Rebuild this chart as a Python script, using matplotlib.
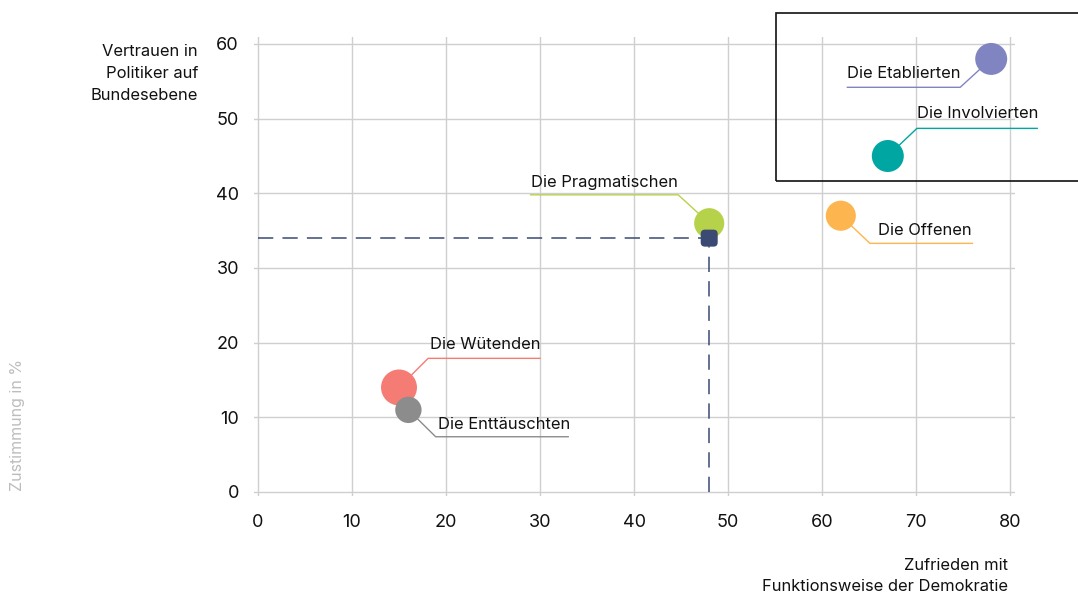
import matplotlib
matplotlib.use("Agg")
import matplotlib.pyplot as plt
from matplotlib.patches import Rectangle, FancyBboxPatch

plt.rcParams['font.family'] = ['Inter', 'DejaVu Sans']

# Segment data: satisfaction with democracy (x) vs. trust in federal politicians (y), in %
segments = ["Die Etablierten", "Die Involvierten", "Die Offenen", "Die Pragmatischen",
            "Die Wütenden", "Die Enttäuschten"]
zufrieden = [78, 67, 62, 48, 15, 16]
vertrauen = [58, 45, 37, 36, 14, 11]
colors = ["#8085c2", "#00a6a1", "#fdb64f", "#b6d24a", "#f47c74", "#8c8c8c"]
sizes = [530, 530, 470, 470, 670, 360]

# Population average
avg_x = 48
avg_y = 34

x_ticks = [0, 10, 20, 30, 40, 50, 60, 70, 80]
y_ticks = [0, 10, 20, 30, 40, 50, 60]

W, H = 1078, 595
fig = plt.figure(figsize=(W / 100, H / 100), dpi=100)

xlim = (-0.4, 80.5)
ylim = (-0.5, 61.0)
px_x = 752 / 80
px_y = 448 / 60
left_px = 258 + xlim[0] * px_x
right_px = 1010 + (xlim[1] - 80) * px_x
bottom_px = 492 - ylim[0] * px_y
top_px = 44 - (ylim[1] - 60) * px_y
ax = fig.add_axes([left_px / W, 1 - bottom_px / H,
                   (right_px - left_px) / W, (bottom_px - top_px) / H])
ax.set_xlim(*xlim)
ax.set_ylim(*ylim)
for s in ax.spines.values():
    s.set_visible(False)
ax.set_xticks(x_ticks)
ax.set_yticks(y_ticks)
ax.tick_params(length=0, labelsize=13, colors="#111111", pad=0)
ax.tick_params(axis="x", pad=13)
ax.tick_params(axis="y", pad=11)
ax.grid(True, color="#cfcfcf", linewidth=1.0)
ax.set_axisbelow(True)

# Average reference lines
dash = dict(color="#3b4a73", linewidth=1.1, dashes=(10, 6), zorder=2)
ax.plot([0, avg_x], [avg_y, avg_y], **dash)
ax.plot([avg_x, avg_x], [0, avg_y], **dash)

# Leader lines: (elbow dx, elbow dy, end x, text x, text y)
leaders = [
    (-3.3, -3.8, 62.7, 62.7, 56.1),
    (3.1, 3.7, 82.9, 70.1, 50.7),
    (3.1, -3.7, 76.0, 66.0, 35.0),
    (-3.3, 3.8, 29.0, 29.0, 41.4),
    (3.1, 3.9, 30.0, 18.3, 19.7),
    (2.9, -3.6, 33.0, 19.1, 9.0),
]
for name, x, y, c, (dx, dy, ex, tx, ty) in zip(segments, zufrieden, vertrauen, colors, leaders):
    ax.plot([x, x + dx, ex], [y, y + dy, y + dy], color=c, linewidth=1.0,
            zorder=3, clip_on=False)
    ax.text(tx, ty, name, fontsize=11.9, color="#111111", ha="left", va="center",
            zorder=5, clip_on=False)

ax.scatter(zufrieden, vertrauen, s=sizes, c=colors, linewidths=0, zorder=4, clip_on=False)

# Average marker: rounded square
sq_w = 17 / px_x
sq_h = 17 / px_y
ax.add_patch(FancyBboxPatch((avg_x - sq_w / 2, avg_y - sq_h / 2), sq_w, sq_h,
                            boxstyle="round,pad=0,rounding_size=0.45",
                            mutation_aspect=px_x / px_y,
                            facecolor="#3b4a73", edgecolor="none", zorder=6))

# Axis titles
fig.text(198 / W, 1 - 44 / H, "Vertrauen in\nPolitiker auf\nBundesebene", ha="right",
         va="top", fontsize=11.9, color="#111111", linespacing=1.6)
fig.text(1008 / W, 1 - 558 / H, "Zufrieden mit\nFunktionsweise der Demokratie",
         ha="right", va="top", fontsize=11.9, color="#111111", linespacing=1.5)
fig.text(18 / W, 1 - 425 / H, "Zustimmung in %", rotation=90, ha="center",
         va="center", fontsize=11.5, color="#bdbdbd")

# Highlight frame around the top-right segments
fig.patches.append(Rectangle((776 / W, 1 - 181 / H), 320 / W, 168 / H,
                             transform=fig.transFigure, fill=False,
                             edgecolor="#111111", linewidth=1.2, zorder=10))

fig.savefig("out.png", dpi=100)
